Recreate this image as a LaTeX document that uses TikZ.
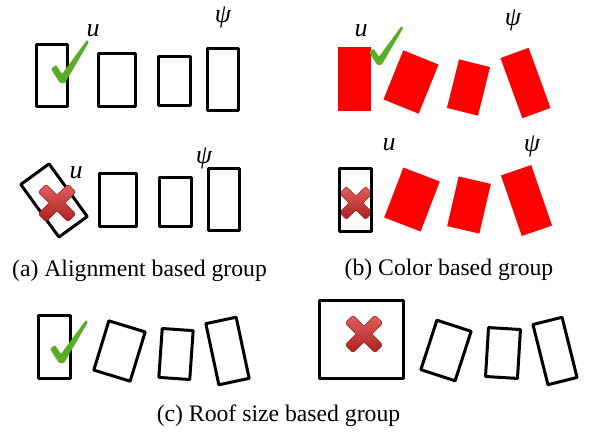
\documentclass[tikz,border=0pt]{standalone}
\usepackage{fontspec}
\setmainfont{Liberation Serif}
\definecolor{checkgreen}{RGB}{88,172,38}
\definecolor{crosslight}{RGB}{226,96,96}
\definecolor{crossdark}{RGB}{172,32,32}
\definecolor{crossedge}{RGB}{150,24,24}
\tikzset{
  roof/.style={draw=black, line width=3pt, line join=round, inner sep=0pt, outer sep=0pt},
  redroof/.style={fill=red, inner sep=0pt, outer sep=0pt},
  osz/.style 2 args={minimum width={(#1-3)*1pt}, minimum height={(#2-3)*1pt}},
  fsz/.style 2 args={minimum width={#1*1pt}, minimum height={#2*1pt}},
  lbl/.style={font=\itshape\fontsize{26}{26}\selectfont, inner sep=0pt},
  captext/.style={font=\fontsize{23.7}{24}\selectfont, inner sep=0pt, anchor=base},
  check/.pic={
    \fill[checkgreen, rounded corners=1pt]
      (-2,2) -- (-11,-12) -- (-6,-16) -- (0,-7) -- (25,-41) -- (27,-39) -- (3,2) -- cycle;
  },
  cross/.pic={
    \shade[top color=crosslight, bottom color=crossdark, draw=crossedge,
           line width=0.5pt, rounded corners=2pt]
      (-10.96,18.74) -- (0,7.78) -- (10.96,18.74) -- (18.74,10.96) -- (7.78,0)
      -- (18.74,-10.96) -- (10.96,-18.74) -- (0,-7.78) -- (-10.96,-18.74)
      -- (-18.74,-10.96) -- (-7.78,0) -- (-18.74,10.96) -- cycle;
  }
}
\begin{document}
\begin{tikzpicture}[x=1pt, y=-1pt]
\useasboundingbox (0,0) rectangle (592,434);

% (a) alignment, accepted row
\node[roof, osz={34}{65}] (a1) at (52,75.5) {};
\node[roof, osz={40}{56}] (a2) at (117,80) {};
\node[roof, osz={35}{52}] (a3) at (174.5,81) {};
\node[roof, osz={34}{65}] (a4) at (223,79.5) {};
\pic (chkA) at (62,81) {check};
\node[lbl] (uA) at (93,31) {u};
\node[lbl] (psiA) at (223,17) {ψ};

% (a) alignment, rejected row
\node[roof, osz={38}{68}, rotate=36] (b1) at (54,200.5) {};
\node[roof, osz={40}{56}] (b2) at (118,200) {};
\node[roof, osz={35}{52}] (b3) at (175.5,202) {};
\node[roof, osz={34}{65}] (b4) at (224,199.5) {};
\pic (crsB) at (57,203) {cross};
\node[lbl] (uB) at (76,173) {u};
\node[lbl] (psiB) at (204,158) {ψ};

\node[captext] (capA) at (139.5,276) {(a) Alignment based group};

% (b) colour, accepted row
\node[redroof, fsz={33}{64}] (c1) at (354.5,79) {};
\node[redroof, fsz={38}{53}, rotate=-22] (c2) at (411,82) {};
\node[redroof, fsz={32}{50}, rotate=-14] (c3) at (468.5,87.5) {};
\node[redroof, fsz={30}{64}, rotate=20] (c4) at (525.5,83) {};
\pic[scale=0.9] (chkC) at (379,63) {check};
\node[lbl] (uC) at (361,31) {u};
\node[lbl] (psiC) at (513,20) {ψ};

% (b) colour, rejected row
\pic[scale=0.88] (crsD) at (356,203) {cross};
\node[roof, osz={35}{66}] (d1) at (355.5,200) {};
\node[redroof, fsz={39}{53.5}, rotate=-21] (d2) at (412,199.5) {};
\node[redroof, fsz={33}{51}, rotate=-13] (d3) at (469,205) {};
\node[redroof, fsz={32}{64}, rotate=19] (d4) at (526.5,200.5) {};
\node[lbl] (uD) at (389,145) {u};
\node[lbl] (psiD) at (532,146) {ψ};

\node[captext] (capB) at (449,275) {(b) Color based group};

% (c) roof size, accepted group
\node[roof, osz={35}{66}] (e1) at (54.5,347) {};
\node[roof, osz={41}{54.5}, rotate=-17] (e2) at (119.5,351) {};
\node[roof, osz={34}{52}, rotate=-4] (e3) at (176,354) {};
\node[roof, osz={34}{65.5}, rotate=12] (e4) at (227.5,351) {};
\pic (chkE) at (61,361) {check};

% (c) roof size, rejected group
\node[roof, osz={87}{81}] (f1) at (361.5,339.5) {};
\node[roof, osz={39}{55}, rotate=-18] (f2) at (446,350.5) {};
\node[roof, osz={35}{52}, rotate=-3.5] (f3) at (503,353) {};
\node[roof, osz={33}{65}, rotate=14] (f4) at (555,351) {};
\pic (crsF) at (364,334) {cross};

\node[captext] (capC) at (278.5,421) {(c) Roof size based group};
\end{tikzpicture}
\end{document}
